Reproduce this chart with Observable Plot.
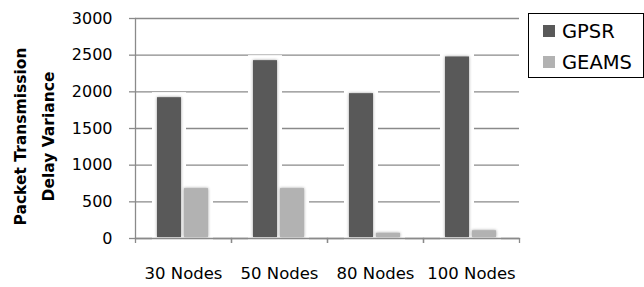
<!DOCTYPE html>
<html>
<head>
<meta charset="utf-8">
<script src="https://cdn.jsdelivr.net/npm/d3@7"></script>
<script src="https://cdn.jsdelivr.net/npm/@observablehq/plot@0.6"></script>
<style>
  html, body { margin: 0; padding: 0; background: #fff; }
  #wrap { position: relative; width: 644px; height: 287px; overflow: hidden; font-family: "DejaVu Sans", sans-serif; }
  #wrap svg { position: absolute; left: 0; top: 0; }
  g.bars rect { filter: drop-shadow(0 0 1.5px #9a9a9a); }
  #legend { position: absolute; left: 528px; top: 13px; width: 116px; height: 65px; box-sizing: border-box; border: 1px solid #000; background: #fff; }
  .item { position: absolute; left: 14px; height: 24px; display: flex; align-items: center; font-size: 19.5px; color: #000; white-space: nowrap; }
  .sw { width: 12px; height: 12px; margin-right: 7px; }
</style>
</head>
<body>
<div id="wrap"></div>
<script>
const categories = ["30 Nodes", "50 Nodes", "80 Nodes", "100 Nodes"];
const seriesNames = ["GPSR", "GEAMS"];
const gpsr = [1920, 2425, 1975, 2475];
const geams = [680, 680, 70, 105];
const yTicks = [0, 500, 1000, 1500, 2000, 2500, 3000];
const colors = ["#595959", "#b2b2b2"];
const yTitle = "Packet Transmission\nDelay Variance";

const data = [];
categories.forEach((c, i) => {
  data.push({node: c, series: "GPSR", value: gpsr[i]});
  data.push({node: c, series: "GEAMS", value: geams[i]});
});

const chart = Plot.plot({
  width: 644,
  height: 287,
  marginLeft: 135,
  marginRight: 125,
  marginTop: 18,
  marginBottom: 49,
  style: {fontFamily: "DejaVu Sans, sans-serif", fontSize: "16px", color: "#000", background: "#fff"},
  fx: {domain: categories, padding: 0, label: null},
  x: {domain: seriesNames, paddingInner: 0.11, paddingOuter: 0.8, axis: null},
  y: {domain: [0, 3000], label: null},
  color: {domain: seriesNames, range: colors},
  marks: [
    Plot.gridY(yTicks, {stroke: "#8a8a8a", strokeOpacity: 1, strokeWidth: 1.3}),
    Plot.axisY(yTicks, {tickSize: 6, tickPadding: 17, tickFormat: d => String(d), stroke: "#8a8a8a", strokeWidth: 1.3, fill: "#000", fontSize: 16, label: null, facetAnchor: "left"}),
    Plot.frame({anchor: "left", stroke: "#8a8a8a", strokeWidth: 1.3, facetAnchor: "left"}),
    Plot.axisFx({anchor: "bottom", tickSize: 5, tickFormat: () => "", dx: -48, stroke: "#8a8a8a", strokeWidth: 1.3, label: null}),
    Plot.axisFx({anchor: "bottom", tickSize: 5, tickFormat: () => "", dx: 48, stroke: "#8a8a8a", strokeWidth: 1.3, label: null}),
    Plot.axisFx({anchor: "bottom", tickSize: 0, tickPadding: 29, fontSize: 16.5, fill: "#000", label: null}),
    Plot.barY(data, {fx: "node", x: "series", y: "value", fill: "#fff", inset: -5}),
    Plot.frame({anchor: "bottom", stroke: "#8a8a8a", strokeWidth: 1.3}),
    Plot.barY(data, {fx: "node", x: "series", y: "value", fill: "series", className: "bars", insetBottom: 1}),
    Plot.text([yTitle], {frameAnchor: "left", textAnchor: "middle", rotate: -90, dx: -104, dy: 8, lineHeight: 1.8, fontSize: 15.5, fontWeight: "bold", fill: "#000", facetAnchor: "left"})
  ]
});

const wrap = document.getElementById("wrap");
wrap.appendChild(chart);

const legend = document.createElement("div");
legend.id = "legend";
seriesNames.forEach((s, i) => {
  const item = document.createElement("div");
  item.className = "item";
  item.style.top = (5 + i * 31) + "px";
  const sw = document.createElement("span");
  sw.className = "sw";
  sw.style.background = colors[i];
  const t = document.createElement("span");
  t.textContent = s;
  item.appendChild(sw);
  item.appendChild(t);
  legend.appendChild(item);
});
wrap.appendChild(legend);
</script>
</body>
</html>
